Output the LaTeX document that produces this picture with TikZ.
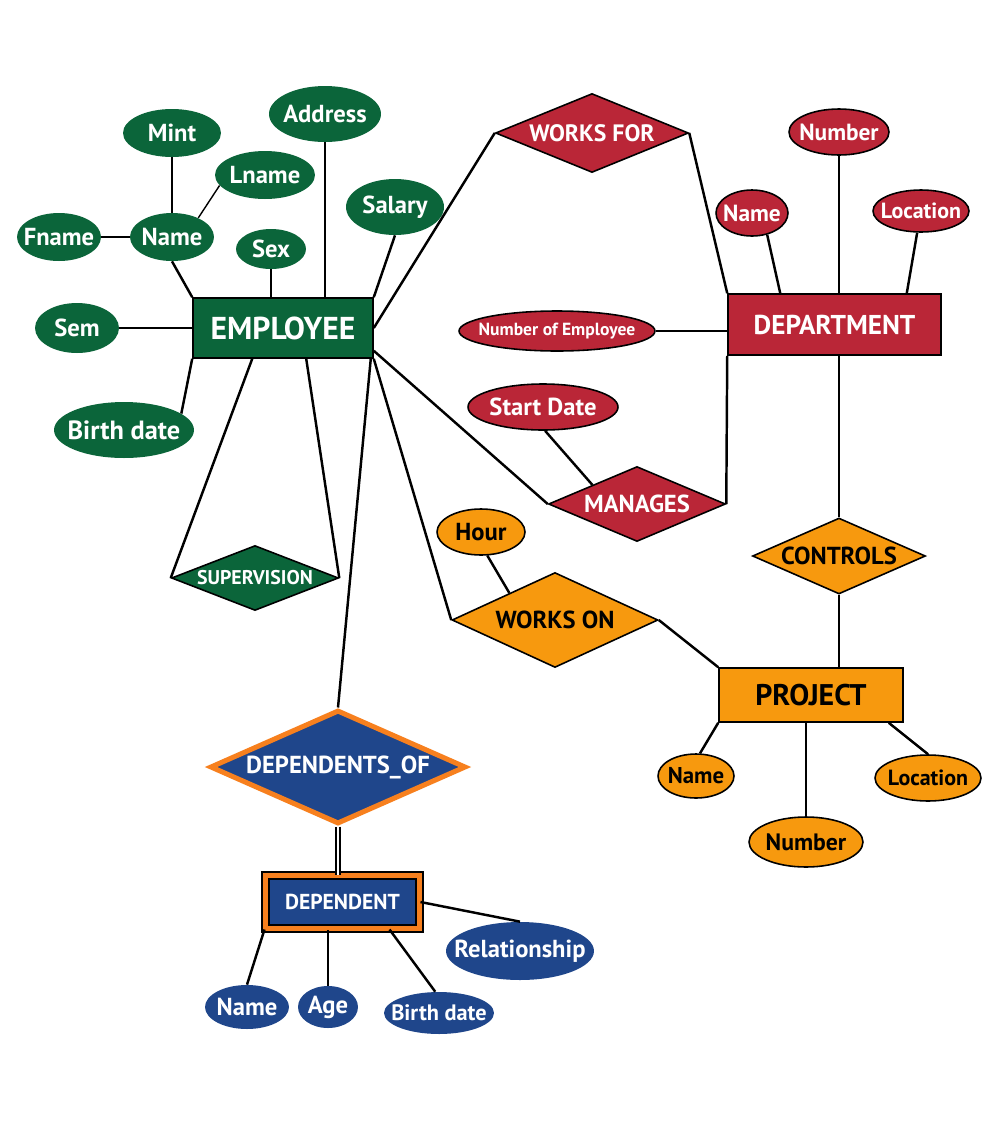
\documentclass[tikz,border=0pt]{standalone}
\usepackage{fontspec}
\setmainfont{PT Sans}
\usepackage{tikz}
\usetikzlibrary{shapes.geometric, positioning, calc}
\definecolor{ergreen}{HTML}{0B653A}
\definecolor{erred}{HTML}{BA2637}
\definecolor{erorange}{HTML}{F7990E}
\definecolor{erblue}{HTML}{1F468B}
\definecolor{erborder}{HTML}{F7801E}
\tikzset{
  centred/.style={execute at begin node={\hbox to 0pt\bgroup\hss}, execute at end node={\hss\egroup}},
  entbox/.style={rectangle, draw=black, line width=0.9pt, inner sep=0pt,
    font=\bfseries\fontsize{15.5}{18}\selectfont},
  attrib/.style={ellipse, inner sep=0pt, centred, font=\bfseries\fontsize{14}{16}\selectfont},
  relbox/.style={diamond, inner sep=0pt, centred, draw=black, line width=0.9pt,
    font=\bfseries\fontsize{14}{16}\selectfont},
  greenpart/.style={fill=ergreen, text=white},
  redpart/.style={fill=erred, text=white, draw=black, line width=0.9pt},
  orangepart/.style={fill=erorange, text=black, draw=black, line width=0.9pt},
  bluepart/.style={fill=erblue, text=white},
  erline/.style={line width=1.4pt},
}
\begin{document}
\begin{tikzpicture}[x=0.02cm, y=-0.02cm]
  \path[use as bounding box, fill=white] (0,0) rectangle (1000,1130);

  % employee side
  \node[entbox, greenpart, minimum width=3.6cm, minimum height=1.2cm,
    font=\bfseries\fontsize{18}{21}\selectfont] (emp) at (283,328) {EMPLOYEE};
  \node[attrib, greenpart, minimum width=1.96cm, minimum height=0.96cm] (mint) at (172,133) {Mint};
  \node[attrib, greenpart, minimum width=2.24cm, minimum height=1.12cm] (addr) at (325,114) {Address};
  \node[attrib, greenpart, minimum width=2.0cm, minimum height=0.96cm] (lname) at (265,175) {Lname};
  \node[attrib, greenpart, minimum width=1.96cm, minimum height=1.12cm] (salary) at (395,207) {Salary};
  \node[attrib, greenpart, minimum width=1.68cm, minimum height=0.96cm] (fname) at (59,237) {Fname};
  \node[attrib, greenpart, minimum width=1.68cm, minimum height=0.96cm] (ename) at (172,237) {Name};
  \node[attrib, greenpart, minimum width=1.4cm, minimum height=0.8cm] (sex) at (271,249) {Sex};
  \node[attrib, greenpart, minimum width=1.68cm, minimum height=1.0cm] (sem) at (77,328) {Sem};
  \node[attrib, greenpart, minimum width=2.8cm, minimum height=1.12cm,
    font=\bfseries\fontsize{15}{17}\selectfont] (ebdate) at (124,430) {Birth date};
  \node[relbox, greenpart, minimum width=3.34cm, minimum height=1.3cm,
    font=\bfseries\fontsize{11.3}{13}\selectfont] (sup) at (255,578) {SUPERVISION};

  % department side
  \node[relbox, redpart, minimum width=3.86cm, minimum height=1.58cm,
    font=\bfseries\fontsize{13.5}{16}\selectfont] (wf) at (592,133) {WORKS FOR};
  \node[entbox, redpart, minimum width=4.26cm, minimum height=1.22cm] (dept) at (834.5,324.5) {DEPARTMENT};
  \node[attrib, redpart, minimum width=2.0cm, minimum height=0.92cm,
    font=\bfseries\fontsize{13.3}{15}\selectfont] (dnum) at (839,132) {Number};
  \node[attrib, redpart, minimum width=1.44cm, minimum height=0.92cm,
    font=\bfseries\fontsize{13.3}{15}\selectfont] (dname) at (752,213) {Name};
  \node[attrib, redpart, minimum width=1.92cm, minimum height=0.84cm,
    font=\bfseries\fontsize{12.5}{15}\selectfont] (dloc) at (921,211) {Location};
  \node[attrib, redpart, minimum width=3.92cm, minimum height=0.8cm,
    font=\bfseries\fontsize{10}{12}\selectfont] (nemp) at (557,331) {Number of Employee};
  \node[attrib, redpart, minimum width=3.0cm, minimum height=0.92cm] (sdate) at (543,407) {Start Date};
  \node[relbox, redpart, minimum width=3.54cm, minimum height=1.5cm] (man) at (637,504) {MANAGES};

  % project side
  \node[relbox, orangepart, minimum width=3.46cm, minimum height=1.52cm] (ctrl) at (839,556) {CONTROLS};
  \node[entbox, orangepart, minimum width=3.68cm, minimum height=1.08cm,
    font=\bfseries\fontsize{17}{20}\selectfont] (proj) at (811,695) {PROJECT};
  \node[relbox, orangepart, minimum width=4.12cm, minimum height=1.9cm] (wo) at (555,620) {WORKS ON};
  \node[attrib, orangepart, minimum width=1.76cm, minimum height=0.92cm] (hour) at (481,532) {Hour};
  \node[attrib, orangepart, minimum width=1.52cm, minimum height=0.88cm,
    font=\bfseries\fontsize{13}{15}\selectfont] (pname) at (696,776) {Name};
  \node[attrib, orangepart, minimum width=2.28cm, minimum height=1.0cm,
    font=\bfseries\fontsize{13.5}{15}\selectfont] (pnum) at (806,842) {Number};
  \node[attrib, orangepart, minimum width=2.12cm, minimum height=0.92cm,
    font=\bfseries\fontsize{12.5}{14}\selectfont] (ploc) at (928,778) {Location};

  % dependent side
  \node[relbox, bluepart, draw=erborder, line width=0.1cm, minimum width=5.12cm, minimum height=2.28cm,
    font=\bfseries\fontsize{14}{16}\selectfont] (depof) at (338,767) {DEPENDENTS\_OF};
  \node[entbox, bluepart, line width=0.04cm, double=erborder, double distance=0.1cm,
    minimum width=3.08cm, minimum height=1.06cm,
    font=\bfseries\fontsize{12.3}{14}\selectfont] (dep) at (342.5,902) {DEPENDENT};
  \node[attrib, bluepart, minimum width=1.68cm, minimum height=0.88cm] (bname) at (247,1007) {Name};
  \node[attrib, bluepart, minimum width=1.2cm, minimum height=0.84cm] (bage) at (328,1007) {Age};
  \node[attrib, bluepart, minimum width=2.2cm, minimum height=0.84cm,
    font=\bfseries\fontsize{12.7}{14}\selectfont] (bbdate) at (439,1013) {Birth date};
  \node[attrib, bluepart, minimum width=2.96cm, minimum height=1.16cm] (brel) at (520,951) {Relationship};

  % employee links
  \draw[erline] (mint.south) -- (ename.north);
  \draw[erline] (fname.east) -- (ename.west);
  \draw[line width=0.8pt] (lname.193) -- (ename.36);
  \draw[erline] (ename.south) -- (emp.north west);
  \draw[erline] (sex.south) -- (sex.south |- emp.north);
  \draw[erline] (addr.south) -- (addr.south |- emp.north);
  \draw[erline] (salary.south) -- (emp.north east);
  \draw[erline] (sem.east) -- (sem.east -| emp.west);
  \draw[erline] (ebdate.16) -- (emp.south west);
  \draw[erline] ($(emp.south west)+(60,0)$) -- (sup.west);
  \draw[erline] ($(emp.south west)+(114,0)$) -- (sup.east);
  \draw[erline] ($(emp.south east)+(-3,0)$) -- (depof.north);
  \draw[erline] (emp.south east) -- (wo.west);
  \draw[erline] ($(emp.south east)+(0,-8)$) -- (man.west);
  \draw[erline] (emp.east) -- (wf.west);

  % department links
  \draw[erline] (wf.east) -- (dept.north west);
  \draw[erline] (dname.-55) -- ($(dept.north west)+(53,0)$);
  \draw[erline] (dnum.south) -- (dnum.south |- dept.north);
  \draw[erline] (dloc.-100) -- ($(dept.north east)+(-35,0)$);
  \draw[erline] (nemp.east) -- (nemp.east -| dept.west);
  \draw[erline] (dept.south west) -- (man.east);
  \draw[erline] (sdate.-85) -- (man.north west);
  \draw[erline] (ctrl.north |- dept.south) -- (ctrl.north);

  % project links
  \draw[erline] (ctrl.south) -- (ctrl.south |- proj.north);
  \draw[erline] (wo.east) -- (proj.north west);
  \draw[erline] (hour.-75) -- ($(wo.west)!0.56!(wo.north)$);
  \draw[erline] (pname.80) -- (proj.south west);
  \draw[erline] (pnum.north) -- (pnum.north |- proj.south);
  \draw[erline] (ploc.north) -- ($(proj.south east)+(-15,0)$);

  % dependent links
  \draw[line width=1.1pt, double, double distance=1.6pt] (depof.south) -- (depof.south |- dep.north);
  \draw[erline] (dep.south west) -- (bname.north);
  \draw[erline] (bage.north) -- (bage.north |- dep.south);
  \draw[erline] ($(dep.south west)+(125,0)$) -- (bbdate.100);
  \draw[erline] (dep.east) -- (brel.north);
\end{tikzpicture}
\end{document}
